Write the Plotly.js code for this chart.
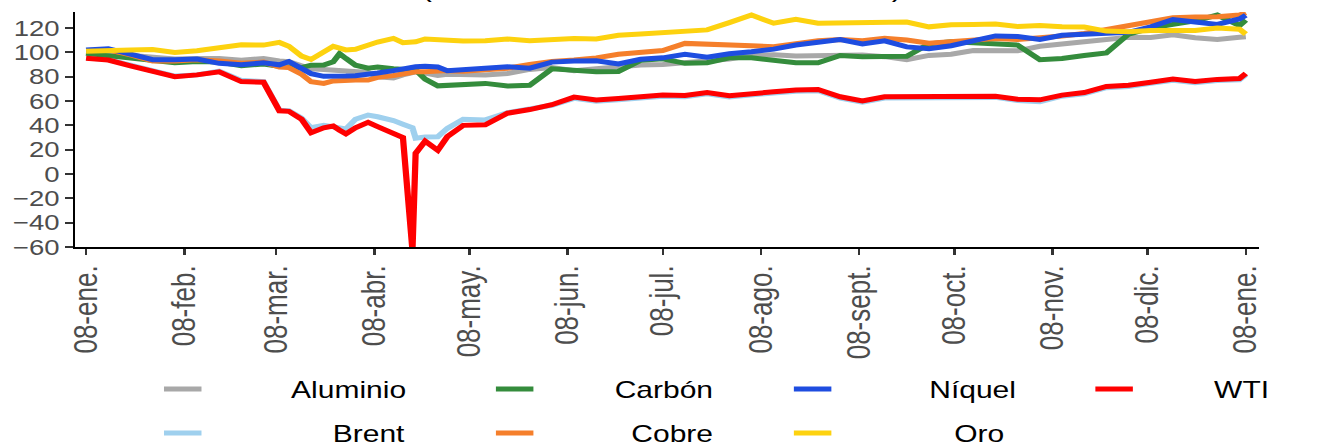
<!DOCTYPE html>
<html><head><meta charset="utf-8">
<script src="https://cdn.plot.ly/plotly-3.0.1.min.js"></script>
<style>
html,body{margin:0;padding:0;background:#fff;overflow:hidden;}
#wrap{width:1330px;height:447px;overflow:hidden;}
#chart{width:1064px;height:447px;transform:scaleX(1.25);transform-origin:0 0;}
</style></head><body><div id="wrap"><div id="chart"></div></div>
<script>
const dates = ['2020-01-08','2020-01-15','2020-01-22','2020-01-29','2020-02-05','2020-02-12','2020-02-19','2020-02-26','2020-03-04','2020-03-09',
'2020-03-12','2020-03-16','2020-03-19','2020-03-23','2020-03-26','2020-03-28','2020-03-30','2020-04-02','2020-04-06','2020-04-09',
'2020-04-14','2020-04-17','2020-04-20','2020-04-21','2020-04-24','2020-04-28','2020-05-01','2020-05-06','2020-05-13','2020-05-20',
'2020-05-27','2020-06-03','2020-06-10','2020-06-17','2020-06-24','2020-07-01','2020-07-08','2020-07-15','2020-07-22','2020-07-29',
'2020-08-05','2020-08-12','2020-08-19','2020-08-26','2020-09-02','2020-09-09','2020-09-16','2020-09-23','2020-09-30','2020-10-07',
'2020-10-14','2020-10-21','2020-10-28','2020-11-04','2020-11-11','2020-11-18','2020-11-25','2020-12-02','2020-12-09','2020-12-16',
'2020-12-23','2020-12-30','2021-01-06','2021-01-08'];

const aluminio = [100.5,99,97,95,94.5,95,95,93.5,95,93, 92.3,89,86.5,86,85.5,85.2,85,84.5,83.5,80, 79,81.5,83.5,84,83,81,82,81.5,81.5,82.7,
86,87.5,85,86.5,88.5,89.6,90,91.5,93,94.5, 97.5,98,97,97.5,98,97.8,96.5,94,97.5,98.5, 101.5,101.5,101.3,105,107,108.5,111.5,112.5,112.3,114.5, 112,110.7,112.5,112.9];
const brent = [95.5,94,89.5,85,80.5,81.5,84.5,77,76,52.5, 52,46,38,40,38.5,37.5,37,45,48.5,47.1, 44,41,38,29.5,30.5,30.7,37.5,45,44.5,50.5,
54,56.5,62.2,59.8,61,62.2,63.9,63.5,66,63.4, 64.5,66.6,68,68.5,62.5,59,62.5,62.5,62,63, 62.8,63,60.5,59.5,64,66,71,72,74.5,77, 75,76.8,77.5,81.7];
const carbon = [99.2,97.5,95.2,94,91.5,92.5,92,89,90.5,88.5, 88,87.5,89.5,89.6,92.3,99,95,89.5,87,88, 86.5,85.5,85.5,85.5,78,72.5,73,74,74.5,72.3,
73,86.5,84.8,84,84.3,93.5,94.8,91,91.5,95.5, 95.5,93.5,91.5,91.5,97.5,96.5,96.5,96.8,107,108.7, 108,107.5,106,94,95,97.5,99.5,115,120,123, 126,130.7,122,126.6];
const cobre = [101.5,102,98,93,93,94,93,91,92,88, 87.5,82,75.9,74.5,76.5,77,77.3,77.3,77.3,79.5, 81,82.5,83.5,84,84,84.5,85,84.5,85.5,87,
90,92.5,93.7,95.5,98.5,99.8,101.5,107.4,107,106.3, 105.5,104.6,107.5,109.5,110.5,109.6,111.5,110.1,107.5,109, 110,111.5,110.5,111.5,113.4,115.5,118.5,122.3,125.5,128.5, 129,129.3,130.7,132.6];
const niquel = [101.9,103,98.5,94,94,94.5,91,89.8,91.5,89.8, 92.5,87,82.5,80.3,80,80,80.5,80.8,81.5,83, 85,86.5,88,88.2,88.6,88,85,86,87.7,88.2,
87,92,93,93.1,90.5,94.3,95.5,98.5,96,98.8, 100.5,102.7,106,108.7,110.5,107,109.5,104.5,103,105.5, 109.5,113.5,113,110.7,114,114.8,115.3,116.5,121,127, 125,123,127.5,130.5];
const oro = [101,101,101.9,102.3,100,101.3,103.5,106.2,106,108.2, 105,97,94.2,101,105,103.5,102,102.5,106,108.5, 111.5,108,108.5,108.7,111,110.5,110,109.3,109.5,111,
109.6,110.5,111.5,111,114,115.1,116,116.8,118.5,124.5, 130.7,124,127.2,124,124.5,124,125.2,125,121,122.8, 123,123.3,121.2,122,121,120.8,117.5,117,118,118, 118,120,119,115];
const wti = [95.2,93.7,89,84,80,81.5,84,76,75.5,52, 51.5,45,34,38,39.5,36,33,38,42.5,39, 34,30,-63,17,27,19.5,30.7,40,40.5,50,
53,57,63.2,60.8,62,63.2,64.9,64.5,67,64.4, 65.5,67.6,69,69.5,63.5,60,63.5,63.5,63,64, 63.8,64,61.5,61,64.9,67,72,73,75.5,78, 76,77.8,78.5,82.7];

const seriesNames = ['Aluminio','Brent','Carbón','Cobre','Níquel','Oro','WTI'];
const seriesValues = [aluminio, brent, carbon, cobre, niquel, oro, wti];
const seriesColors = ['#a8a8a8','#9fd0ee','#348c3c','#f57f2b','#1e4de0','#fdd20f','#ff0000'];

const tickDates = ['2020-01-08','2020-02-08','2020-03-08','2020-04-08','2020-05-08','2020-06-08','2020-07-08','2020-08-08','2020-09-08','2020-10-08','2020-11-08','2020-12-08','2021-01-08'];
const tickLabels = ['08-ene.','08-feb.','08-mar.','08-abr.','08-may.','08-jun.','08-jul.','08-ago.','08-sept.','08-oct.','08-nov.','08-dic.','08-ene.'];
const leftTicks = [-60,-40,-20,0,20,40,60,80,100,120];
const rightTicks = [-50,0,50,100];
const titleText = '(Índice 2 de enero de 2020 = 100)';

// legend slot for each series: [legend id, x (paper), y (paper), gap before label (in spaces)]
const legendSlots = [
  ['legend', 0.0699, -0.6055, 10],
  ['legend5', 0.0699, -0.7928, 15],
  ['legend2', 0.3503, -0.6055, 9],
  ['legend6', 0.3503, -0.7928, 11],
  ['legend3', 0.6020, -0.6055, 11],
  ['legend7', 0.6020, -0.7928, 14],
  ['legend4', 0.8567, -0.6055, 9]
];

const FONT = 'Liberation Sans, Arial, Helvetica, sans-serif';
const traces = seriesNames.map((n, i) => ({
  type: 'scatter', mode: 'lines',
  name: '\u00a0'.repeat(legendSlots[i][3]) + n,
  x: dates, y: seriesValues[i],
  line: {color: seriesColors[i], width: 5}, legend: legendSlots[i][0],
  hoverinfo: 'skip'
}));

const layout = {
  width: 1064, height: 447,
  margin: {l: 60, r: 57, t: 12, b: 200, autoexpand: false},
  paper_bgcolor: '#ffffff', plot_bgcolor: '#ffffff',
  font: {family: FONT, color: '#4d4d4d'},
  xaxis: {
    type: 'date', range: ['2020-01-04 12:00', '2021-01-12 02:00'],
    tickmode: 'array', tickvals: tickDates, ticktext: tickLabels, tickangle: -90,
    ticks: 'outside', ticklen: 6, tickwidth: 2, tickcolor: '#333333',
    showline: true, linecolor: '#000000', linewidth: 2, mirror: false,
    showgrid: false, zeroline: false,
    tickfont: {family: FONT, size: 26, color: '#4d4d4d'}
  },
  yaxis: {
    range: [-60, 133.2], tickmode: 'array', tickvals: leftTicks,
    ticks: 'outside', ticklen: 6, tickwidth: 2, tickcolor: '#333333',
    showline: true, linecolor: '#000000', linewidth: 2,
    showgrid: false, zeroline: false,
    tickfont: {family: FONT, size: 22, color: '#4d4d4d'}
  },
  yaxis2: {
    overlaying: 'y', side: 'right', anchor: 'x',
    range: [-60, 133.2], tickmode: 'array', tickvals: rightTicks,
    ticks: 'outside', ticklen: 6, tickwidth: 2, tickcolor: '#333333',
    showline: true, linecolor: '#000000', linewidth: 2,
    showgrid: false, zeroline: false,
    tickfont: {family: FONT, size: 22, color: '#4d4d4d'}
  },
  annotations: [{
    text: titleText, xref: 'paper', yref: 'paper', x: 0.496, y: 1.032,
    xanchor: 'center', yanchor: 'bottom', showarrow: false,
    font: {family: FONT, size: 25.5, color: '#000000'}
  }],
  showlegend: true
};
legendSlots.forEach(s => {
  layout[s[0]] = {
    x: s[1], y: s[2], xanchor: 'left', yanchor: 'middle', orientation: 'v',
    itemwidth: 30, bgcolor: 'rgba(0,0,0,0)', borderwidth: 0,
    font: {family: FONT, size: 24, color: '#000000'}
  };
});

Plotly.newPlot('chart', traces, layout, {staticPlot: true, displayModeBar: false});
</script></body></html>
